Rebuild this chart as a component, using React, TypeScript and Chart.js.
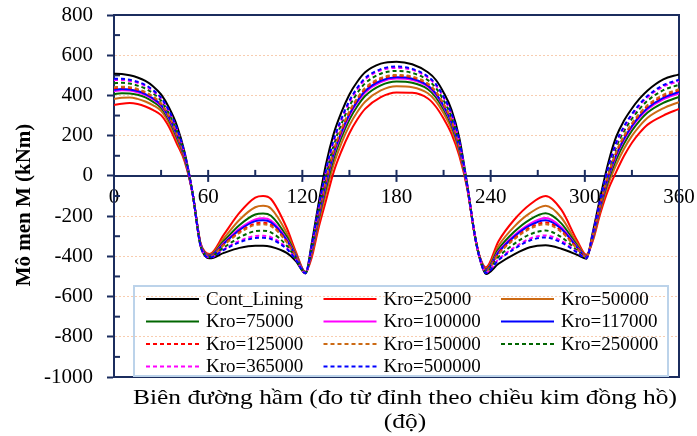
import React, { useEffect, useRef } from "react";
import { Chart, registerables } from "chart.js";

Chart.register(...registerables);

// Angle around the lining (degrees, clockwise from the crown)
const angles = [0, 5, 10, 15, 20, 25, 30, 35, 40, 45, 50, 55, 58, 61, 70, 80, 90, 95, 100, 110, 116, 122, 126, 130, 135, 140, 145, 150, 155, 160, 170, 180, 190, 200, 205, 210, 215, 220, 225, 230, 233, 237, 245, 255, 265, 275, 285, 295, 301, 305, 310, 315, 320, 325, 330, 335, 340, 350, 360];

// Bending moment M (kNm) for each model
const contLining = [508, 507, 500, 489, 472, 445, 405, 340, 252, 118, -82, -345, -398, -410, -383, -358, -347, -347, -352, -383, -425, -485, -335, -153, 55, 210, 318, 405, 468, 515, 558, 568, 555, 515, 478, 415, 330, 190, -40, -300, -410, -488, -437, -390, -355, -345, -362, -392, -412, -283, -100, 67, 195, 275, 335, 385, 425, 480, 505];
const kro25000 = [352, 359, 362, 357, 345, 327, 302, 244, 161, 72, -85, -330, -378, -388, -292, -183, -108, -100, -115, -258, -380, -478, -405, -270, -125, 20, 125, 212, 280, 333, 392, 415, 413, 385, 345, 285, 210, 100, -60, -300, -400, -455, -325, -218, -142, -100, -168, -320, -392, -325, -183, -67, 20, 100, 165, 215, 255, 300, 333];
const kro50000 = [383, 389, 390, 383, 370, 351, 323, 263, 179, 81, -84, -333, -382, -392, -310, -218, -156, -149, -162, -283, -389, -479, -391, -247, -89, 58, 164, 251, 318, 369, 425, 446, 441, 411, 372, 311, 234, 118, -56, -300, -402, -462, -347, -252, -185, -149, -207, -334, -396, -317, -166, -40, 55, 135, 199, 249, 289, 336, 367];
const kro75000 = [407, 411, 410, 403, 390, 368, 338, 278, 193, 88, -84, -335, -385, -396, -324, -244, -192, -187, -198, -302, -396, -480, -380, -229, -62, 87, 193, 280, 346, 397, 450, 469, 463, 431, 392, 331, 252, 132, -53, -300, -404, -467, -364, -278, -217, -186, -236, -345, -399, -310, -154, -20, 81, 161, 225, 275, 315, 363, 393];
const kro100000 = [422, 426, 424, 416, 402, 380, 348, 287, 202, 93, -84, -337, -387, -398, -333, -262, -216, -211, -222, -314, -400, -481, -373, -217, -44, 106, 212, 299, 365, 415, 467, 484, 477, 444, 405, 344, 264, 141, -51, -300, -405, -470, -375, -295, -238, -210, -255, -352, -401, -306, -146, -7, 99, 179, 242, 292, 332, 381, 410];
const kro117000 = [428, 432, 430, 422, 407, 385, 353, 291, 206, 95, -84, -337, -388, -399, -337, -269, -225, -221, -231, -319, -402, -481, -371, -213, -37, 113, 220, 307, 372, 422, 473, 490, 483, 449, 410, 349, 269, 144, -50, -300, -405, -471, -380, -302, -246, -220, -263, -355, -402, -304, -142, -1, 106, 186, 248, 298, 338, 388, 417];
const kro125000 = [436, 439, 437, 428, 414, 391, 358, 296, 210, 97, -83, -338, -389, -400, -341, -278, -237, -233, -243, -326, -404, -482, -367, -207, -28, 123, 229, 316, 382, 431, 482, 498, 490, 455, 417, 355, 275, 149, -49, -300, -405, -473, -386, -311, -257, -232, -273, -359, -403, -302, -138, 5, 115, 195, 257, 307, 347, 397, 426];
const kro150000 = [441, 443, 441, 432, 417, 394, 361, 299, 213, 98, -83, -339, -389, -401, -344, -283, -244, -241, -250, -329, -406, -482, -365, -203, -22, 128, 235, 322, 387, 437, 487, 502, 494, 459, 421, 359, 278, 151, -49, -300, -406, -474, -389, -316, -263, -240, -279, -361, -403, -301, -136, 9, 120, 200, 262, 312, 352, 403, 431];
const kro250000 = [461, 463, 459, 449, 434, 410, 374, 311, 225, 104, -83, -341, -392, -403, -356, -306, -275, -273, -281, -346, -412, -483, -356, -188, 1, 153, 260, 347, 412, 460, 508, 522, 512, 476, 438, 376, 294, 163, -46, -300, -407, -478, -403, -338, -291, -272, -304, -370, -406, -296, -125, 27, 143, 223, 284, 334, 374, 426, 453];
const kro365000 = [477, 477, 472, 463, 447, 421, 384, 321, 234, 109, -83, -342, -394, -406, -365, -323, -299, -298, -305, -358, -416, -484, -349, -176, 19, 172, 279, 366, 430, 479, 525, 537, 527, 489, 451, 389, 306, 172, -44, -300, -408, -481, -415, -356, -312, -296, -323, -378, -408, -291, -117, 40, 160, 240, 301, 351, 391, 444, 471];
const kro500000 = [483, 483, 478, 468, 452, 426, 389, 325, 237, 111, -82, -343, -395, -406, -368, -330, -309, -308, -314, -363, -418, -484, -346, -172, 26, 180, 287, 374, 438, 486, 531, 544, 532, 494, 457, 394, 311, 176, -43, -300, -408, -483, -419, -363, -321, -306, -331, -380, -409, -290, -113, 46, 167, 247, 308, 358, 398, 451, 478];

// Axis ranges and tick spacing
const xRange = [0, 360];
const xMajorStep = 60;
const xMinorStep = 30;
const yRange = [-1000, 800];
const yMajorStep = 200;

const xTitle = "Biên đường hầm (đo từ đỉnh theo chiều kim đồng hồ)";
const xTitleUnit = "(độ)";
const yTitle = "Mô men M (kNm)";

const SERIF = "'Liberation Serif', 'Times New Roman', serif";
const NAVY = "#1b2d5e";
const GRID = "#f8cdb0";
const RED = "#ff0000";
const ORANGE = "#cc6a14";
const GREEN = "#006600";
const MAGENTA = "#ff00ff";
const BLUE = "#0000ff";
const DASH = [4, 3];

type Series = { label: string; values: number[]; color: string; dash: number[] };

const series: Series[] = [
  { label: "Cont_Lining", values: contLining, color: "#000000", dash: [] },
  { label: "Kro=25000", values: kro25000, color: RED, dash: [] },
  { label: "Kro=50000", values: kro50000, color: ORANGE, dash: [] },
  { label: "Kro=75000", values: kro75000, color: GREEN, dash: [] },
  { label: "Kro=100000", values: kro100000, color: MAGENTA, dash: [] },
  { label: "Kro=117000", values: kro117000, color: BLUE, dash: [] },
  { label: "Kro=125000", values: kro125000, color: RED, dash: DASH },
  { label: "Kro=150000", values: kro150000, color: ORANGE, dash: DASH },
  { label: "Kro=250000", values: kro250000, color: GREEN, dash: DASH },
  { label: "Kro=365000", values: kro365000, color: MAGENTA, dash: DASH },
  { label: "Kro=500000", values: kro500000, color: BLUE, dash: DASH },
];

// Frame, minor ticks and the tick marks of the x axis that crosses at M = 0
const axisDecor = {
  id: "axisDecor",
  beforeDatasetsDraw(chart: any) {
    const { ctx, chartArea: ca, scales } = chart;
    const xs = scales.x;
    const ys = scales.y;
    const y0 = ys.getPixelForValue(0);
    ctx.save();
    ctx.strokeStyle = NAVY;
    ctx.lineWidth = 2;
    ctx.setLineDash([]);
    ctx.beginPath();
    ctx.moveTo(ca.left, ca.top);
    ctx.lineTo(ca.right, ca.top);
    ctx.lineTo(ca.right, ca.bottom);
    ctx.lineTo(ca.left, ca.bottom);
    ctx.stroke();
    for (let v = xRange[0]; v <= xRange[1]; v += xMinorStep) {
      const px = xs.getPixelForValue(v);
      const major = v % xMajorStep === 0;
      ctx.beginPath();
      ctx.moveTo(px, y0 - 6);
      ctx.lineTo(px, major ? y0 + 6 : y0);
      ctx.stroke();
    }
    for (let v = yRange[0] + yMajorStep / 2; v < yRange[1]; v += yMajorStep) {
      const py = ys.getPixelForValue(v);
      ctx.beginPath();
      ctx.moveTo(ca.left, py);
      ctx.lineTo(ca.left + 6, py);
      ctx.stroke();
    }
    ctx.restore();
  },
};

// Three-column legend box in the lower part of the plot
const gridLegend = {
  id: "gridLegend",
  afterDraw(chart: any) {
    const { ctx, chartArea: ca } = chart;
    const left = ca.left + 20;
    const right = ca.right - 11;
    const bottom = ca.bottom - 1;
    const top = ca.bottom - 91;
    ctx.save();
    ctx.strokeStyle = "#bcd3ea";
    ctx.lineWidth = 2;
    ctx.setLineDash([]);
    ctx.strokeRect(left, top, right - left, bottom - top);
    ctx.font = `19px ${SERIF}`;
    ctx.fillStyle = "#000";
    ctx.textBaseline = "middle";
    ctx.textAlign = "left";
    chart.data.datasets.forEach((ds: any, i: number) => {
      const col = i % 3;
      const row = Math.floor(i / 3);
      const x0 = left + 12 + col * 177.5;
      const yc = top + 13 + row * 22.5;
      ctx.strokeStyle = ds.borderColor;
      ctx.lineWidth = 2;
      ctx.setLineDash(ds.borderDash || []);
      ctx.beginPath();
      ctx.moveTo(x0, yc);
      ctx.lineTo(x0 + 53, yc);
      ctx.stroke();
      ctx.setLineDash([]);
      ctx.fillText(ds.label, x0 + 60, yc + 1);
    });
    ctx.restore();
  },
};

// Axis titles (the lower title is set slightly wide, as in the original layout)
const axisTitles = {
  id: "axisTitles",
  afterDraw(chart: any) {
    const { ctx, chartArea: ca } = chart;
    ctx.save();
    ctx.fillStyle = "#000";
    ctx.textAlign = "center";
    ctx.textBaseline = "alphabetic";
    ctx.font = `22px ${SERIF}`;
    const cx = ca.left + 291;
    const natural = ctx.measureText(xTitle).width;
    const stretch = 544 / natural;
    ctx.save();
    ctx.translate(cx, 0);
    ctx.scale(stretch, 1);
    ctx.fillText(xTitle, 0, ca.bottom + 27);
    ctx.fillText(xTitleUnit, 0, ca.bottom + 51);
    ctx.restore();
    ctx.translate(25, ca.top + 190);
    ctx.rotate(-Math.PI / 2);
    ctx.font = `bold 21px ${SERIF}`;
    ctx.textBaseline = "middle";
    ctx.fillText(yTitle, 0, 0);
    ctx.restore();
  },
};

export default function App() {
  const canvasRef = useRef<HTMLCanvasElement | null>(null);

  useEffect(() => {
    const canvas = canvasRef.current;
    if (!canvas) return;
    const chart = new Chart(canvas, {
      type: "line",
      data: {
        datasets: series.map((s, i) => ({
          label: s.label,
          data: angles.map((a, j) => ({ x: a, y: s.values[j] })),
          borderColor: s.color,
          backgroundColor: s.color,
          borderWidth: 2,
          borderDash: s.dash,
          pointRadius: 0,
          fill: false,
          cubicInterpolationMode: "monotone" as const,
          order: series.length - i,
        })),
      },
      options: {
        responsive: false,
        animation: false,
        devicePixelRatio: 1,
        layout: { padding: { left: 0, top: 15, right: 18, bottom: 59 } },
        plugins: {
          legend: { display: false },
          tooltip: { enabled: false },
          title: { display: false },
        },
        scales: {
          x: {
            type: "linear",
            position: { y: 0 } as any,
            min: xRange[0],
            max: xRange[1],
            afterFit: (s: any) => {
              s.height = 0;
              s.paddingLeft = 0;
              s.paddingRight = 0;
            },
            ticks: {
              stepSize: xMajorStep,
              autoSkip: false,
              maxRotation: 0,
              padding: 9,
              color: "#000",
              font: { family: SERIF, size: 21 },
              callback: (v: any) => String(v),
            },
            grid: { display: false, drawTicks: false },
            border: { display: true, color: NAVY, width: 2 },
          },
          y: {
            type: "linear",
            min: yRange[0],
            max: yRange[1],
            afterFit: (s: any) => {
              s.width = 114;
              s.paddingTop = 0;
              s.paddingBottom = 0;
            },
            ticks: {
              stepSize: yMajorStep,
              padding: 14,
              color: "#000",
              font: { family: SERIF, size: 21 },
              callback: (v: any) => String(v),
            },
            grid: {
              display: true,
              drawOnChartArea: true,
              drawTicks: true,
              tickLength: 7,
              tickWidth: 2,
              tickColor: NAVY,
              lineWidth: 1,
              color: (c: any) => {
                const v = c.tick ? c.tick.value : null;
                return v === yRange[0] || v === yRange[1] || v === 0 ? "rgba(0,0,0,0)" : GRID;
              },
            },
            border: { display: true, color: NAVY, width: 2, dash: [2, 2] },
          },
        },
      },
      plugins: [axisDecor, gridLegend, axisTitles],
    });
    return () => chart.destroy();
  }, []);

  return (
    <div style={{ position: "fixed", left: 0, top: 0, width: 697, height: 436, background: "#fff" }}>
      <canvas ref={canvasRef} width={697} height={436} style={{ display: "block", width: 697, height: 436 }} />
    </div>
  );
}
